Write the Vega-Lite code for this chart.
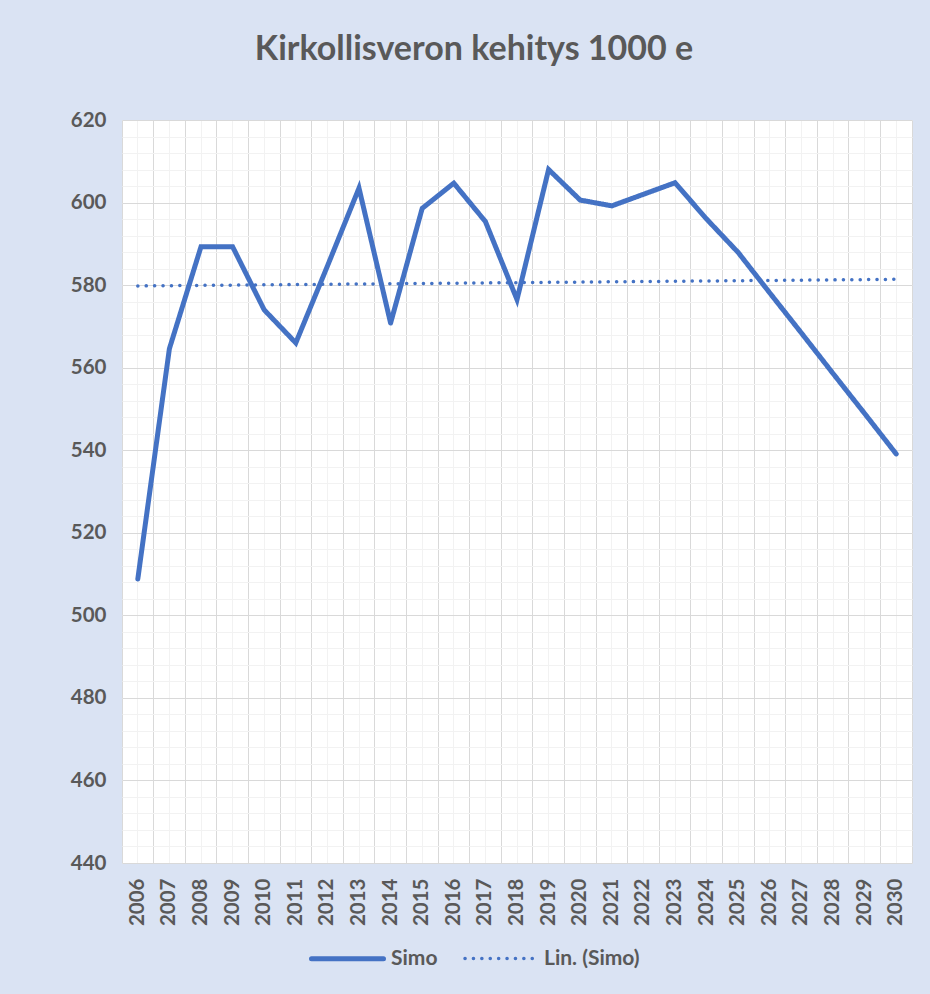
{
  "$schema": "https://vega.github.io/schema/vega-lite/v6.json",
  "width": 790,
  "height": 743,
  "autosize": {"type": "none"},
  "padding": {"left": 122, "top": 120, "right": 18, "bottom": 131},
  "background": "#dae3f3",
  "config": {
    "view": {"stroke": "#d9d9d9", "strokeWidth": 1, "fill": "#ffffff"},
    "font": "Lato",
    "axis": {
      "labelFont": "Lato",
      "labelFontWeight": "bold",
      "labelFontSize": 20.5,
      "labelColor": "#595959",
      "ticks": false,
      "domain": false,
      "title": null
    }
  },
  "title": {
    "text": "Kirkollisveron kehitys 1000 e",
    "font": "Lato",
    "fontSize": 34,
    "fontWeight": "bold",
    "color": "#595959",
    "anchor": "middle",
    "dx": -43,
    "offset": 43
  },
  "datasets": {
    "main": [
      {"year": 2006, "value": 508.8, "series": "Simo"},
      {"year": 2007, "value": 564.6, "series": "Simo"},
      {"year": 2008, "value": 589.3, "series": "Simo"},
      {"year": 2009, "value": 589.3, "series": "Simo"},
      {"year": 2010, "value": 574.0, "series": "Simo"},
      {"year": 2011, "value": 566.0, "series": "Simo"},
      {"year": 2012, "value": 584.6, "series": "Simo"},
      {"year": 2013, "value": 603.5, "series": "Simo"},
      {"year": 2014, "value": 570.8, "series": "Simo"},
      {"year": 2015, "value": 598.6, "series": "Simo"},
      {"year": 2016, "value": 604.7, "series": "Simo"},
      {"year": 2017, "value": 595.4, "series": "Simo"},
      {"year": 2018, "value": 576.5, "series": "Simo"},
      {"year": 2019, "value": 608.0, "series": "Simo"},
      {"year": 2020, "value": 600.6, "series": "Simo"},
      {"year": 2021, "value": 599.2, "series": "Simo"},
      {"year": 2022, "value": 602.0, "series": "Simo"},
      {"year": 2023, "value": 604.8, "series": "Simo"},
      {"year": 2024, "value": 596.0, "series": "Simo"},
      {"year": 2025, "value": 587.9, "series": "Simo"},
      {"year": 2026, "value": 578.1, "series": "Simo"},
      {"year": 2027, "value": 568.4, "series": "Simo"},
      {"year": 2028, "value": 558.6, "series": "Simo"},
      {"year": 2029, "value": 548.9, "series": "Simo"},
      {"year": 2030, "value": 539.1, "series": "Simo"}
    ],
    "trend": [
      {"year": 2006, "value": 579.8, "series": "Lin. (Simo)"},
      {"year": 2030, "value": 581.4, "series": "Lin. (Simo)"}
    ]
  },
  "resolve": {"axis": {"x": "independent", "y": "independent"}},
  "layer": [
    {
      "data": {"name": "trend"},
      "mark": {"type": "line", "strokeCap": "round"},
      "encoding": {
        "x": {
          "field": "year",
          "type": "ordinal",
          "bandPosition": 0.5,
          "scale": {"type": "band", "paddingInner": 0, "paddingOuter": 0,
            "domain": [2006,2007,2008,2009,2010,2011,2012,2013,2014,2015,2016,2017,2018,2019,2020,2021,2022,2023,2024,2025,2026,2027,2028,2029,2030]},
          "axis": {
            "orient": "bottom",
            "bandPosition": 0.5,
            "grid": true,
            "gridColor": "#f2f2f2",
            "gridWidth": 1,
            "labelAngle": -90,
            "labelPadding": 15,
            "title": null
          }
        },
        "y": {
          "field": "value",
          "type": "quantitative",
          "scale": {"domain": [440, 620], "nice": false, "zero": false},
          "axis": {
            "orient": "left",
            "values": [440,444,448,452,456,460,464,468,472,476,480,484,488,492,496,500,504,508,512,516,520,524,528,532,536,540,544,548,552,556,560,564,568,572,576,580,584,588,592,596,600,604,608,612,616,620],
            "grid": true,
            "gridColor": "#f2f2f2",
            "gridWidth": 1,
            "labels": false,
            "title": null
          }
        },
        "color": {
          "field": "series", "type": "nominal",
          "scale": {"domain": ["Simo", "Lin. (Simo)"], "range": ["#4472c4", "#4472c4"]},
          "legend": {
            "orient": "none",
            "direction": "horizontal",
            "legendX": 187,
            "legendY": 800,
            "title": null,
            "symbolType": "stroke",
            "symbolSize": 5184,
            "labelFont": "Lato",
            "labelFontSize": 21,
            "labelFontWeight": "bold",
            "labelColor": "#595959",
            "labelOffset": 5,
            "columnPadding": 20,
            "padding": 0,
            "encode": {"symbols": {"update": {"strokeCap": {"value": "round"}}}}
          }
        },
        "strokeDash": {
          "field": "series", "type": "nominal",
          "scale": {"domain": ["Simo", "Lin. (Simo)"], "range": [[1, 0], [0.1, 8.3]]}
        },
        "strokeWidth": {
          "field": "series", "type": "ordinal",
          "scale": {"domain": ["Simo", "Lin. (Simo)"], "range": [5, 3.5]}
        }
      }
    },
    {
      "data": {"name": "main"},
      "mark": {"type": "line", "strokeCap": "round"},
      "encoding": {
        "x": {
          "field": "year",
          "type": "ordinal",
          "bandPosition": 0.5,
          "axis": {
            "orient": "bottom",
            "bandPosition": 0,
            "grid": true,
            "gridColor": "#d9d9d9",
            "gridWidth": 1,
            "labels": false,
            "title": null
          }
        },
        "y": {
          "field": "value",
          "type": "quantitative",
          "axis": {
            "orient": "left",
            "values": [440,460,480,500,520,540,560,580,600,620],
            "grid": true,
            "gridColor": "#d9d9d9",
            "gridWidth": 1,
            "labelPadding": 16,
            "title": null
          }
        },
        "color": {"field": "series", "type": "nominal"},
        "strokeDash": {"field": "series", "type": "nominal"},
        "strokeWidth": {"field": "series", "type": "ordinal"}
      }
    }
  ]
}
